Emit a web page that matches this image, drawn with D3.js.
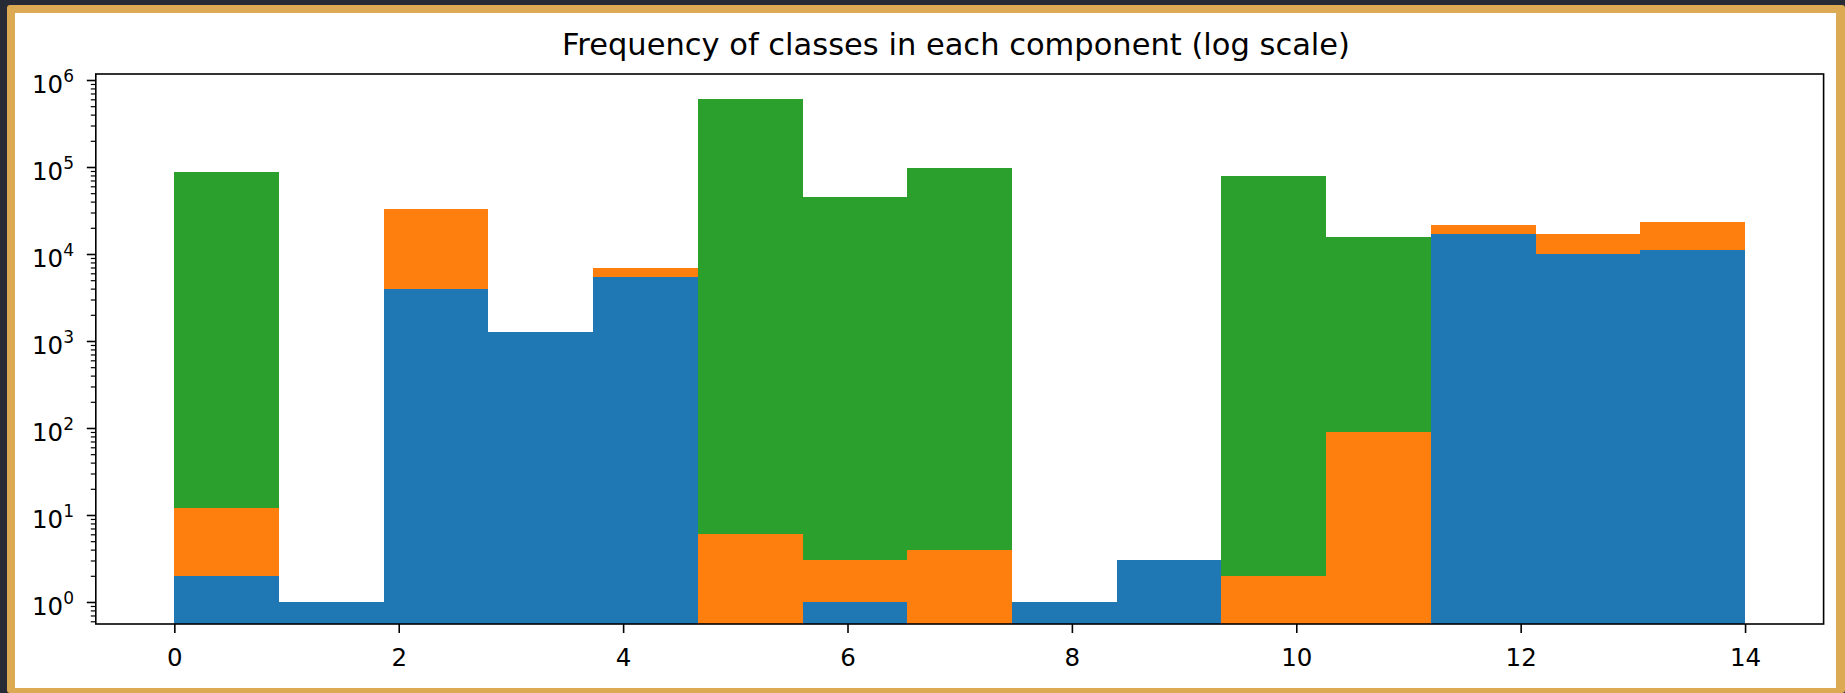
<!DOCTYPE html>
<html>
<head>
<meta charset="utf-8">
<script src="https://cdn.jsdelivr.net/npm/d3@7"></script>
<style>
  html, body { margin: 0; padding: 0; background: #272b35; overflow: hidden; }
  svg { display: block; }
  text { font-family: "DejaVu Sans", sans-serif; fill: #000; }
</style>
</head>
<body>
<svg id="chart" width="1845" height="693"></svg>
<script>
// Histogram bins: 15 equal bins spanning component ids 0..14
const binRange = [0, 14];
const binCount = 15;

// Counts per bin for each class (stacked bottom to top)
const class0Counts = [2, 1, 3930, 1280, 5400, 0, 1, 0, 1, 3, 0, 0, 16800, 10000, 11100];
const class1Counts = [10, 0, 29000, 0, 1450, 6, 2, 4, 0, 0, 2, 90, 4900, 6800, 12000];
const class2Counts = [88300, 0, 0, 0, 0, 605000, 45600, 98200, 0, 0, 79400, 15700, 0, 0, 0];
const classColors = ["#1f77b4", "#ff7f0e", "#2ca02c"];

// Axis ticks
const xTickValues = [0, 2, 4, 6, 8, 10, 12, 14];
const yMajorExponents = [0, 1, 2, 3, 4, 5, 6];
const titleText = "Frequency of classes in each component (log scale)";

const W = 1845, H = 693;
const plot = { left: 95.8, right: 1823.6, top: 74, bottom: 624 };
const tickFont = 24.5, supFont = 17;

const svg = d3.select("#chart");

// Page frame: dark surround, gold border, white panel
svg.append("rect").attr("x", 0).attr("y", 0).attr("width", W).attr("height", H).attr("fill", "#272b35");
svg.append("rect").attr("x", 7).attr("y", 5).attr("width", W - 7).attr("height", H - 5)
  .attr("rx", 3).attr("fill", "#dcaa52");
svg.append("rect").attr("x", 15).attr("y", 13).attr("width", 1836 - 15).attr("height", 688 - 13)
  .attr("fill", "#ffffff");

// Scales
const x = d3.scaleLinear().domain([-0.7, 14.7]).range([plot.left, plot.right]);
const yMin = Math.pow(10, -0.253), yMax = Math.pow(10, 6.069);
const y = d3.scaleLog().domain([yMin, yMax]).range([plot.bottom, plot.top]);

// Bin edges and stacked segments
const binWidth = (binRange[1] - binRange[0]) / binCount;
const series = [class0Counts, class1Counts, class2Counts];
const segments = [];
for (let i = 0; i < binCount; i++) {
  let cum = 0;
  series.forEach((counts, s) => {
    const c = counts[i];
    if (c > 0) {
      segments.push({
        x0: binRange[0] + i * binWidth,
        x1: binRange[0] + (i + 1) * binWidth,
        lo: Math.max(cum, yMin),
        hi: cum + c,
        color: classColors[s]
      });
    }
    cum += c;
  });
}

svg.append("defs").append("clipPath").attr("id", "plotClip")
  .append("rect").attr("x", plot.left).attr("y", plot.top)
  .attr("width", plot.right - plot.left).attr("height", plot.bottom - plot.top);

svg.append("g").attr("clip-path", "url(#plotClip)")
  .selectAll("rect").data(segments).join("rect")
  .attr("x", d => x(d.x0))
  .attr("width", d => x(d.x1) - x(d.x0))
  .attr("y", d => y(d.hi))
  .attr("height", d => y(d.lo) - y(d.hi))
  .attr("fill", d => d.color)
  .attr("shape-rendering", "crispEdges");

// X axis
const xAxis = svg.append("g").attr("transform", `translate(0,${plot.bottom})`)
  .call(d3.axisBottom(x).tickValues(xTickValues).tickSize(9).tickFormat(d3.format("d")));
xAxis.select(".domain").remove();
xAxis.selectAll(".tick line").attr("stroke", "#000").attr("stroke-width", 1.6);
xAxis.selectAll(".tick text")
  .attr("y", 42).attr("dy", null)
  .attr("font-size", tickFont).attr("font-family", "DejaVu Sans, sans-serif").attr("fill", "#000");

// Y axis: major ticks at powers of ten, minor ticks in between
const yMajor = yMajorExponents.map(e => Math.pow(10, e));
const yMinor = [];
for (let e = -1; e <= 6; e++) {
  for (let m = 2; m <= 9; m++) {
    const v = m * Math.pow(10, e);
    if (v >= yMin && v <= yMax) yMinor.push(v);
  }
}
const yAxisMajor = svg.append("g").attr("transform", `translate(${plot.left},0)`)
  .call(d3.axisLeft(y).tickValues(yMajor).tickSize(9).tickFormat(""));
yAxisMajor.select(".domain").remove();
yAxisMajor.selectAll(".tick line").attr("stroke", "#000").attr("stroke-width", 1.6);

const yAxisMinor = svg.append("g").attr("transform", `translate(${plot.left},0)`)
  .call(d3.axisLeft(y).tickValues(yMinor).tickSize(5).tickFormat(""));
yAxisMinor.select(".domain").remove();
yAxisMinor.selectAll(".tick line").attr("stroke", "#000").attr("stroke-width", 1.2);

// Y tick labels as 10 with a superscript exponent
const yLabels = svg.append("g").selectAll("text").data(yMajorExponents).join("text")
  .attr("x", 74)
  .attr("y", e => y(Math.pow(10, e)) + 13)
  .attr("text-anchor", "end")
  .attr("font-size", tickFont);
yLabels.append("tspan").text("10");
yLabels.append("tspan").attr("dy", -11).attr("font-size", supFont).text(e => String(e));

// Spines
svg.append("rect")
  .attr("x", plot.left).attr("y", plot.top)
  .attr("width", plot.right - plot.left).attr("height", plot.bottom - plot.top)
  .attr("fill", "none").attr("stroke", "#000").attr("stroke-width", 1.6);

// Title
svg.append("text")
  .attr("x", 956)
  .attr("y", 55)
  .attr("text-anchor", "middle")
  .attr("font-size", 30.5)
  .text(titleText);
</script>
</body>
</html>
